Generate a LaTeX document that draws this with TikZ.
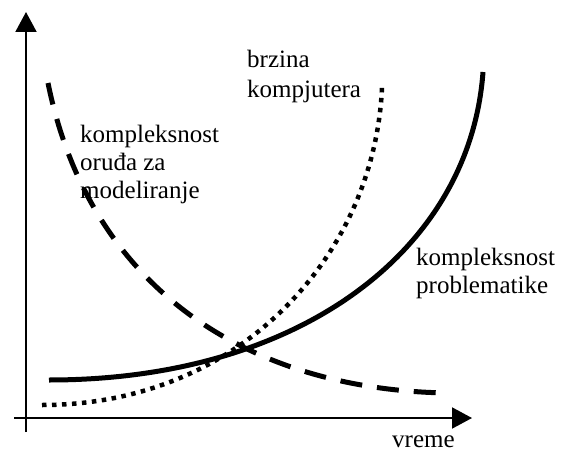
\documentclass[tikz,border=0pt]{standalone}
\usepackage{fontspec}
\setmainfont{Liberation Serif}
\usetikzlibrary{arrows.meta}
\begin{document}
\begin{tikzpicture}[x=1pt,y=-1pt,
  axis/.style={line width=2pt,-{Triangle[length=20pt,width=21pt]}},
  solidcurve/.style={line width=5pt},
  dottedcurve/.style={line width=4.5pt,dash pattern=on 4.5pt off 5.5pt},
  dashedcurve/.style={line width=5pt,dash pattern=on 22pt off 15pt},
  lbl/.style={anchor=base west,inner sep=0pt,font=\fontsize{25}{28}\selectfont}]
\useasboundingbox (0,0) rectangle (567,452);
% axes
\coordinate (ybot) at (26,432);
\coordinate (ytop) at (26,12);
\coordinate (xleft) at (14,418);
\coordinate (xright) at (472,418);
\draw[axis] (ybot) -- (ytop);
\draw[axis] (xleft) -- (xright);
% curves
\coordinate (s0) at (49,380);
\coordinate (s1) at (483,72);
\coordinate (d0) at (42,405);
\coordinate (d1) at (382,87);
\coordinate (m0) at (48,83);
\coordinate (m1) at (448,393);
\draw[solidcurve] (s0) .. controls (300,380) and (470,250) .. (s1);
\draw[dottedcurve] (d0) .. controls (240,405) and (375,255) .. (d1);
\draw[dashedcurve] (m0) .. controls (90,290) and (250,390) .. (m1);
% labels
\node[lbl] (lt) at (80,142) {\vtop{\baselineskip=28pt\hbox{kompleksnost}\hbox{oruđa za}\hbox{modeliranje}}};
\node[lbl] (lb) at (247,67) {\vtop{\baselineskip=30pt\hbox{brzina}\hbox{kompjutera}}};
\node[lbl] (lp) at (416,265) {\vtop{\baselineskip=28pt\hbox{kompleksnost}\hbox{problematike}}};
\node[lbl] (lv) at (392,447) {vreme};
\end{tikzpicture}
\end{document}
